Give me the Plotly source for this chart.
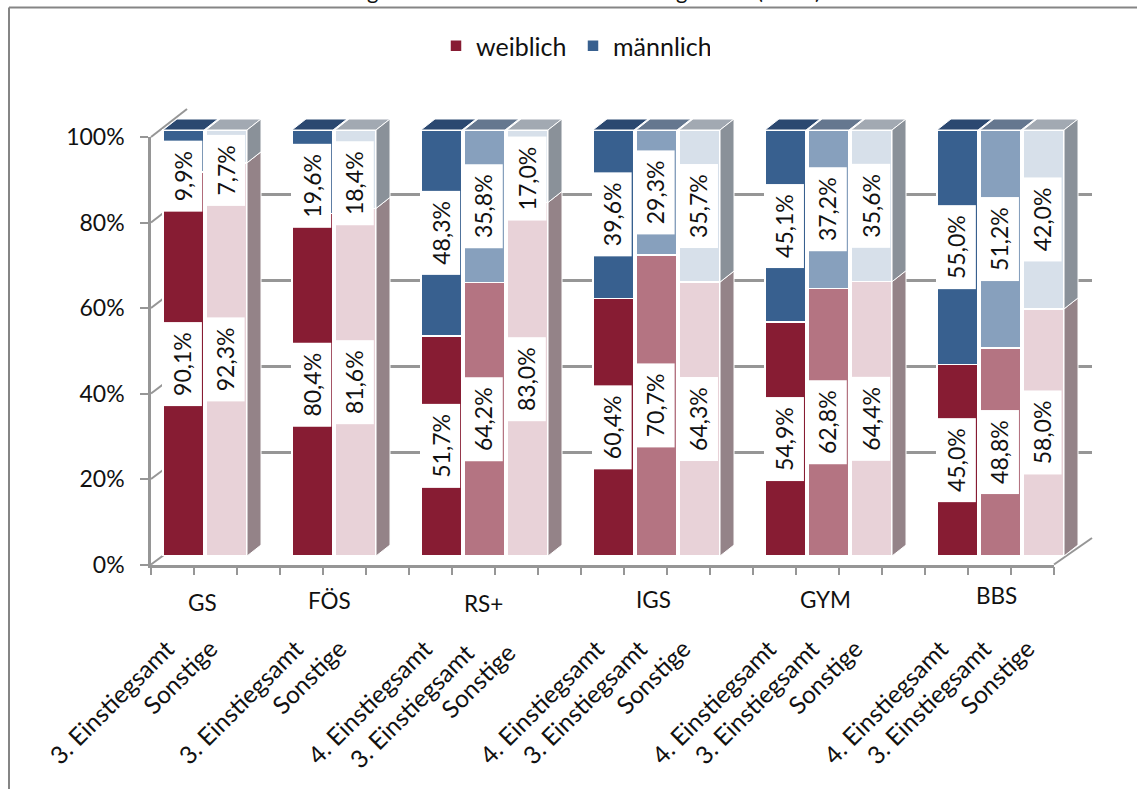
import plotly.graph_objects as go

# School types and the career tracks shown for each of them
school_types = ["GS", "FÖS", "RS+", "IGS", "GYM", "BBS"]
tracks = [
    ["3. Einstiegsamt", "Sonstige"],
    ["3. Einstiegsamt", "Sonstige"],
    ["4. Einstiegsamt", "3. Einstiegsamt", "Sonstige"],
    ["4. Einstiegsamt", "3. Einstiegsamt", "Sonstige"],
    ["4. Einstiegsamt", "3. Einstiegsamt", "Sonstige"],
    ["4. Einstiegsamt", "3. Einstiegsamt", "Sonstige"],
]

# Shares in percent, one value per bar from left to right
weiblich = [90.1, 92.3, 80.4, 81.6, 51.7, 64.2, 83.0, 60.4, 70.7, 64.3, 54.9, 62.8, 64.4, 45.0, 48.8, 58.0]
maennlich = [9.9, 7.7, 19.6, 18.4, 48.3, 35.8, 17.0, 39.6, 29.3, 35.7, 45.1, 37.2, 35.6, 55.0, 51.2, 42.0]

# Shade index per bar: 0 dark, 1 medium, 2 light
shade = [0, 2, 0, 2, 0, 1, 2, 0, 1, 2, 0, 1, 2, 0, 1, 2]

# Category slot on the axis for the first bar of each school type
group_start = [0, 3, 6, 10, 14, 18]
slot_count = 21

RED = ["#871C33", "#B47482", "#E8D2D8"]
BLUE = ["#38608F", "#87A0BD", "#D7E0EA"]
TOP = ["#2B4870", "#65778F", "#A2A9B2"]
SIDE_RED = "#948388"
SIDE_BLUE = "#8A9199"
AXIS = "#969696"
INK = "#111111"
FONT = "Lato"

W, H = 1137, 789


def fx(px):
    return px / W


def fy(px):
    return 1 - px / H


# Oblique projection, in pixels: front axis plane, bar plane, back wall
FRONT = dict(left=151, right=1054, y0=564.5, y100=137)
BAR_LEFT = 162
BAR_SLOT = 43.0
BAR_Y0, BAR_SCALE = 556, 4.26
BAR_YMAX = 110
BACK = dict(left=187, right=1092, y0=538, y100=109)
BAR_WIDTH = 0.955
DEPTH_X = 14 / BAR_SLOT
DEPTH_Y = 11 / BAR_SCALE

positions = []
track_names = []
for start, names in zip(group_start, tracks):
    for i, name in enumerate(names):
        positions.append(start + i + 0.5)
        track_names.append(name)

fig = go.Figure()

# Empty traces keep the back wall and the front axes on the page
fig.add_trace(go.Scatter(x=[None], y=[None], xaxis="x", yaxis="y", showlegend=False, hoverinfo="skip"))

fig.add_trace(go.Bar(
    x=positions, y=weiblich, name="weiblich", xaxis="x2", yaxis="y2", width=BAR_WIDTH,
    marker=dict(color=[RED[s] for s in shade], line=dict(color="white", width=1.5)),
    hoverinfo="skip",
))
fig.add_trace(go.Bar(
    x=positions, y=maennlich, name="männlich", xaxis="x2", yaxis="y2", width=BAR_WIDTH,
    marker=dict(color=[BLUE[s] for s in shade], line=dict(color="white", width=1.5)),
    hoverinfo="skip",
))


def face(xs, ys, color):
    fig.add_trace(go.Scatter(
        x=xs, y=ys, xaxis="x2", yaxis="y2", mode="lines", fill="toself", fillcolor=color,
        line=dict(color="white", width=1), showlegend=False, hoverinfo="skip",
    ))


half = BAR_WIDTH / 2
# Top face of every bar
for pos, s in zip(positions, shade):
    left, right = pos - half, pos + half
    face([left, right, right + DEPTH_X, left + DEPTH_X, left],
         [100, 100, 100 + DEPTH_Y, 100 + DEPTH_Y, 100], TOP[s])

# Side faces of the rightmost bar in each group
last = [i for i in range(len(positions)) if i == len(positions) - 1 or positions[i + 1] - positions[i] > 1]
for i in last:
    r = positions[i] + half
    v = weiblich[i]
    face([r, r + DEPTH_X, r + DEPTH_X, r, r], [0, DEPTH_Y, v + DEPTH_Y, v, 0], SIDE_RED)
    face([r, r + DEPTH_X, r + DEPTH_X, r, r], [v, v + DEPTH_Y, 100 + DEPTH_Y, 100, v], SIDE_BLUE)

fig.add_trace(go.Scatter(x=[None], y=[None], xaxis="x3", yaxis="y3", showlegend=False, hoverinfo="skip"))

annotations = []

# Rotated value labels on white boxes
male_label_shift = {0: 6.0, 1: 5.75, 2: 3.3, 3: 3.3, 6: 2.9}


def comma(v):
    return f"{v:.1f}".replace(".", ",") + "%"


for i, pos in enumerate(positions):
    f, m = weiblich[i], maennlich[i]
    for value, center in ((f, f / 2), (m, f + m / 2 - male_label_shift.get(i, 0))):
        text = comma(value)
        annotations.append(dict(
            x=pos, y=center, xref="x2", yref="y2", text=text, textangle=-90, showarrow=False,
            width=83 if len(text) > 4 else 70, height=38, bgcolor="white", xshift=-1, borderpad=0,
            font=dict(family=FONT, size=23, color=INK),
        ))

# Slanted track labels under each slot
track_nudge = {5: (-1, 4), 6: (-3, 4)}
slot_left, slot_px = FRONT["left"], (FRONT["right"] - FRONT["left"]) / slot_count
for i, (pos, name) in enumerate(zip(positions, track_names)):
    dx, dy = track_nudge.get(i, (0, 0))
    annotations.append(dict(
        x=fx(slot_left + pos * slot_px + 10 + dx), y=fy(631 + dy), xref="paper", yref="paper",
        text=name, textangle=-45, showarrow=False, xanchor="right", yanchor="top",
        font=dict(family=FONT, size=24.5, color=INK),
    ))

# School type captions
group_label_px = [(202.5, 602.5), (329, 600.5), (483.5, 603), (653, 599), (825, 599), (996, 595)]
for name, (px, py) in zip(school_types, group_label_px):
    annotations.append(dict(
        x=fx(px), y=fy(py), xref="paper", yref="paper", text=name, showarrow=False,
        xanchor="center", yanchor="middle", font=dict(family=FONT, size=22.5, color=INK),
    ))

# The heading runs off the top edge of the page
for text, px in (("g", 372), ("g", 681), ("(", 760), (")", 818)):
    annotations.append(dict(
        x=fx(px), y=fy(6), xref="paper", yref="paper", text=text, showarrow=False,
        xanchor="center", yanchor="bottom", font=dict(family=FONT, size=22, color=INK),
    ))

line = dict(color=AXIS, width=2)
border = dict(color="#858585", width=2)
shapes = [
    dict(type="line", xref="paper", yref="paper", x0=fx(9), x1=fx(9), y0=fy(7.5), y1=fy(H), line=border),
    dict(type="line", xref="paper", yref="paper", x0=fx(9), x1=1, y0=fy(7.5), y1=fy(7.5), line=border),
]
# Diagonals of the side wall and the floor
tick_values = [0, 20, 40, 60, 80, 100]
for v in tick_values:
    a = FRONT["y0"] + (FRONT["y100"] - FRONT["y0"]) * v / 100
    b = BACK["y0"] + (BACK["y100"] - BACK["y0"]) * v / 100
    shapes.append(dict(type="line", xref="paper", yref="paper", layer="below",
                       x0=fx(FRONT["left"]), x1=fx(BACK["left"]), y0=fy(a), y1=fy(b), line=line))
shapes.append(dict(type="line", xref="paper", yref="paper", layer="below",
                   x0=fx(FRONT["right"]), x1=fx(BACK["right"]), y0=fy(FRONT["y0"]), y1=fy(BACK["y0"]), line=line))

fig.update_layout(
    width=W, height=H, margin=dict(l=0, r=0, t=0, b=0, autoexpand=False), autosize=False,
    paper_bgcolor="white", plot_bgcolor="rgba(0,0,0,0)",
    barmode="stack", font=dict(family=FONT, color=INK), showlegend=True,
    legend=dict(
        orientation="h", x=fx(436), y=fy(46), xanchor="left", yanchor="middle",
        font=dict(family=FONT, size=25, color=INK), traceorder="normal",
        entrywidth=92, entrywidthmode="pixels", itemclick=False, itemdoubleclick=False,
        bgcolor="rgba(0,0,0,0)",
    ),
    annotations=annotations, shapes=shapes,
    # Back wall with its gridlines
    xaxis=dict(domain=[fx(BACK["left"]), fx(BACK["right"])], range=[0, 1], visible=False, fixedrange=True),
    yaxis=dict(domain=[fy(BACK["y0"]), fy(BACK["y100"])], range=[0, 100], tickvals=tick_values, showgrid=True,
               gridcolor=AXIS, gridwidth=2.5, zeroline=False, showline=False, ticks="", showticklabels=False,
               anchor="x", fixedrange=True),
    # Bar plane
    xaxis2=dict(domain=[fx(BAR_LEFT), fx(BAR_LEFT + 22 * BAR_SLOT)], range=[0, 22], visible=False, anchor="y2",
                fixedrange=True),
    yaxis2=dict(domain=[fy(BAR_Y0), fy(BAR_Y0 - BAR_SCALE * BAR_YMAX)], range=[0, BAR_YMAX], visible=False,
                anchor="x2", fixedrange=True),
    # Front axes with ticks and percent labels
    xaxis3=dict(domain=[fx(FRONT["left"]), fx(FRONT["right"])], range=[0, slot_count], anchor="y3",
                tickvals=list(range(slot_count + 1)), showticklabels=False, ticks="outside", ticklen=8, tickwidth=2,
                tickcolor=AXIS, showline=True, linecolor=AXIS, linewidth=2.5, showgrid=False, zeroline=False,
                fixedrange=True),
    yaxis3=dict(domain=[fy(FRONT["y0"]), fy(FRONT["y100"])], range=[0, 100], anchor="x3",
                tickvals=tick_values, ticktext=[f"{v}%" for v in tick_values], ticks="outside", ticklen=8, tickwidth=2,
                tickcolor=AXIS, showline=True, linecolor=AXIS, linewidth=2.5, showgrid=False, zeroline=False,
                tickfont=dict(family=FONT, size=23, color=INK), ticklabelstandoff=11, fixedrange=True),
)

fig.write_html("out.html", config=dict(displayModeBar=False))
